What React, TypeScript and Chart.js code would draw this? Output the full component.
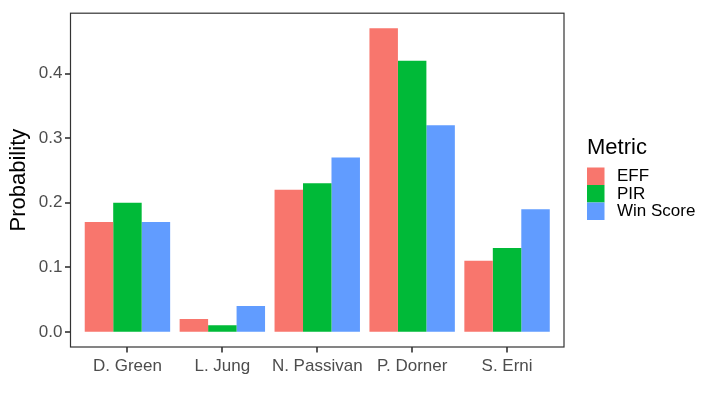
import React, { useEffect, useRef } from "react";
import { Chart, registerables } from "chart.js";

Chart.register(...registerables);

const players = ["D. Green", "L. Jung", "N. Passivan", "P. Dorner", "S. Erni"];
const metrics = ["EFF", "PIR", "Win Score"];
const effValues = [0.17, 0.02, 0.22, 0.47, 0.11];
const pirValues = [0.2, 0.01, 0.23, 0.42, 0.13];
const winValues = [0.17, 0.04, 0.27, 0.32, 0.19];
const yTicks = [0, 0.1, 0.2, 0.3, 0.4];
const colors = ["#F8766D", "#00BA38", "#619CFF"];

const FONT = "'Liberation Sans', Arial, Helvetica, sans-serif";
const TICK_LEN = 5;

export default function App() {
  const ref = useRef<HTMLCanvasElement>(null);

  useEffect(() => {
    document.body.style.margin = "0";
    const canvas = ref.current!;
    const series = [effValues, pirValues, winValues];

    const panelPlugin = {
      id: "panel",
      afterDraw(chart: any) {
        const { ctx, chartArea } = chart;
        const xs = chart.scales.x;
        const ys = chart.scales.y;
        ctx.save();
        ctx.strokeStyle = "#333333";
        ctx.lineWidth = 1.2;
        ctx.strokeRect(
          chartArea.left,
          chartArea.top,
          chartArea.right - chartArea.left,
          chartArea.bottom - chartArea.top
        );
        ctx.fillStyle = "#333333";
        players.forEach((_, i) => {
          const px = Math.round(xs.getPixelForValue(i + 1));
          ctx.fillRect(px - 0.8, chartArea.bottom, 1.6, TICK_LEN + 0.5);
        });
        yTicks.forEach((v) => {
          const py = Math.round(ys.getPixelForValue(v));
          ctx.fillRect(chartArea.left - TICK_LEN - 0.5, py - 0.8, TICK_LEN + 0.5, 1.6);
        });
        ctx.restore();
      },
    };

    const legendPlugin = {
      id: "ggLegend",
      afterDraw(chart: any) {
        const ctx = chart.ctx;
        ctx.save();
        const x0 = 587;
        ctx.fillStyle = "#000000";
        ctx.font = `22px ${FONT}`;
        ctx.textBaseline = "alphabetic";
        ctx.textAlign = "left";
        ctx.fillText("Metric", x0, 154);
        const key = 17.5;
        const top0 = 167.5;
        chart.data.datasets.forEach((ds: any, i: number) => {
          const y = top0 + i * key;
          ctx.fillStyle = ds.backgroundColor;
          ctx.fillRect(x0, y, key, key);
          ctx.fillStyle = "#000000";
          ctx.font = `17px ${FONT}`;
          ctx.textBaseline = "middle";
          ctx.fillText(ds.label, 617, y + key / 2 + 0.5);
        });
        ctx.restore();
      },
    };

    const chart = new Chart(canvas, {
      type: "bar",
      data: {
        datasets: metrics.map((m, i) => ({
          label: m,
          data: series[i].map((v, j) => ({ x: j + 1, y: v })),
          backgroundColor: colors[i],
          borderWidth: 0,
          categoryPercentage: 0.9,
          barPercentage: 1.0,
        })),
      },
      options: {
        responsive: false,
        animation: false,
        layout: { padding: { left: 0, top: 11, right: 144, bottom: 0 } },
        plugins: {
          legend: { display: false },
          tooltip: { enabled: false },
        },
        scales: {
          x: {
            type: "linear",
            min: 0.4,
            max: 5.6,
            offset: false,
            afterFit: (s: any) => {
              s.height = 47;
            },
            afterBuildTicks: (s: any) => {
              s.ticks = players.map((_, i) => ({ value: i + 1 }));
            },
            grid: {
              display: false,
              offset: false,
              drawOnChartArea: false,
              drawTicks: true,
              tickLength: TICK_LEN,
            },
            border: { display: false },
            ticks: {
              autoSkip: false,
              maxRotation: 0,
              padding: 4,
              color: "#4D4D4D",
              font: { family: FONT, size: 17 },
              callback: (v: any) => players[Math.round(Number(v)) - 1] ?? "",
            },
          },
          y: {
            type: "linear",
            min: -0.0235,
            max: 0.4935,
            afterFit: (s: any) => {
              s.width = 70.5;
            },
            afterBuildTicks: (s: any) => {
              s.ticks = yTicks.map((v) => ({ value: v }));
            },
            grid: {
              display: false,
              offset: false,
              drawOnChartArea: false,
              drawTicks: true,
              tickLength: TICK_LEN,
            },
            border: { display: false },
            ticks: {
              padding: 3,
              color: "#4D4D4D",
              font: { family: FONT, size: 17 },
              callback: (v: any) => Number(v).toFixed(1),
            },
            title: {
              display: true,
              text: "Probability",
              color: "#000000",
              font: { family: FONT, size: 22 },
              padding: { top: 6, bottom: 0 },
            },
          },
        },
      },
      plugins: [panelPlugin, legendPlugin],
    });

    return () => chart.destroy();
  }, []);

  return <canvas ref={ref} width={708} height={394} style={{ display: "block" }} />;
}
